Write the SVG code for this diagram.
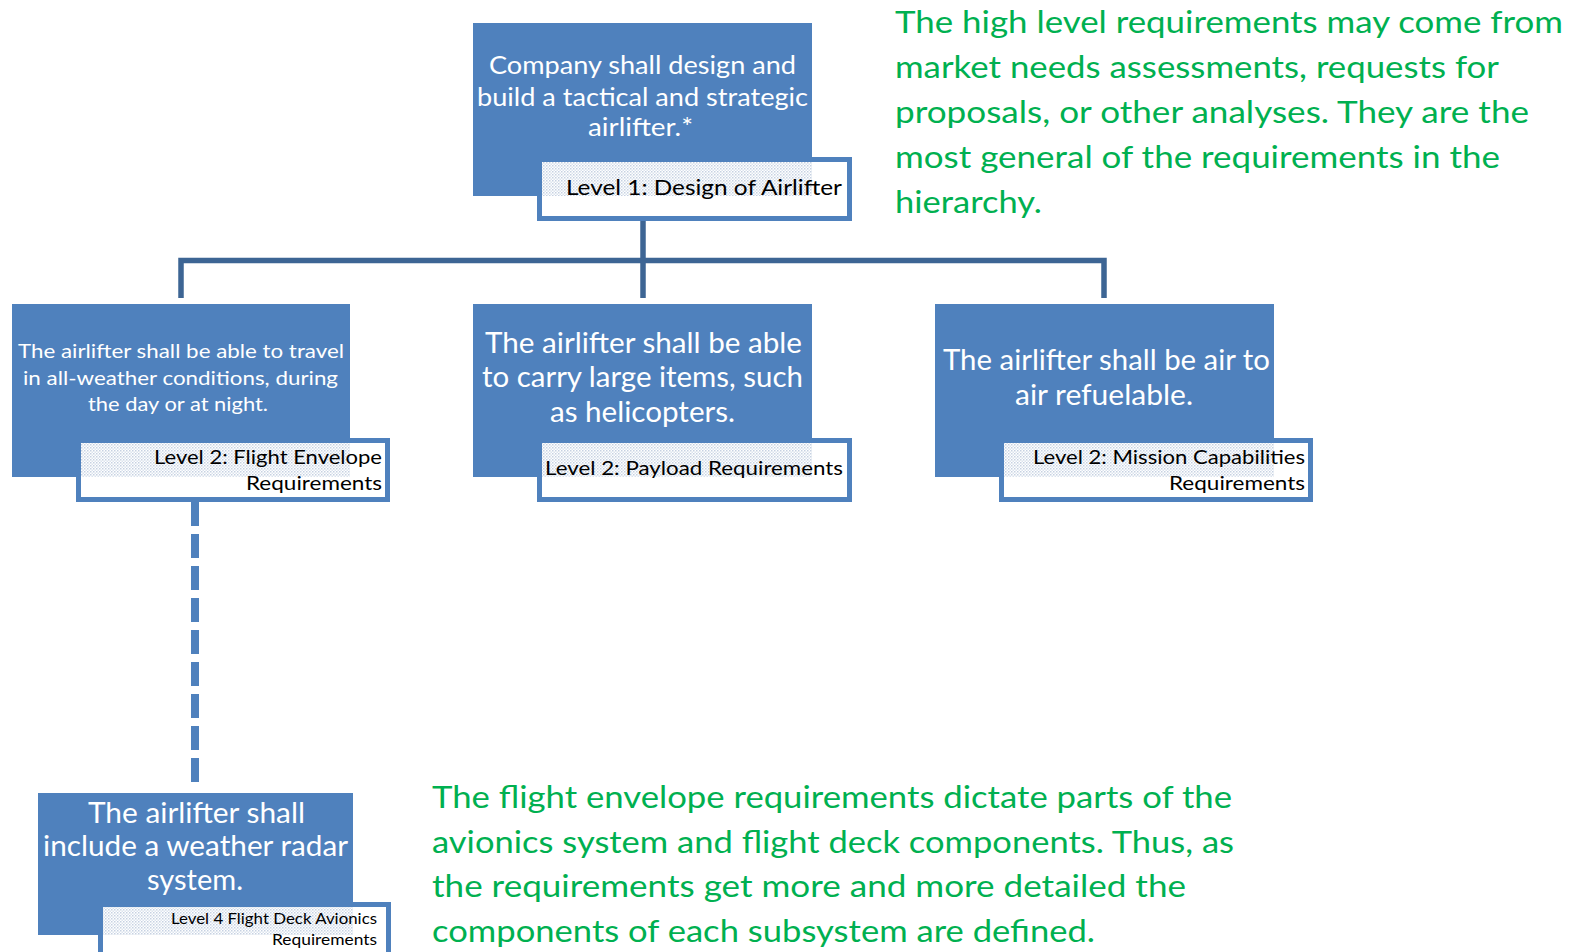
<svg xmlns="http://www.w3.org/2000/svg" width="1581" height="952" viewBox="0 0 1581 952">
<style>
.node{fill:#4f81bd}
.lbl{fill:#fff;stroke:#4f81bd;stroke-width:5}
.dot{fill:url(#dots)}
.wt{fill:#fff;font-family:Lato,"Liberation Sans",sans-serif}
.bk{fill:#000;font-family:Lato,"Liberation Sans",sans-serif}
.gr{fill:#00b050;font-family:Lato,"Liberation Sans",sans-serif;font-size:31px}
.conn{fill:none;stroke:#3d6594;stroke-width:5.5}
.dash{fill:none;stroke:#4f81bd;stroke-width:8;stroke-dasharray:24 8}
</style>
<defs>
<pattern id="dots" width="3" height="3" patternUnits="userSpaceOnUse">
<rect width="3" height="3" fill="#ffffff"/>
<rect width="1.5" height="1.5" fill="#c6d1e2"/>
<rect x="1.5" y="1.5" width="1.5" height="1.5" fill="#dbe3ee"/>
</pattern>
</defs>
<rect width="1581" height="952" fill="#fff"/>

<g id="connectors">
<path class="conn" d="M643,221 V260.5"/>
<path class="conn" d="M181,298 V260.5 H1104 V298"/>
<path class="conn" d="M643,260.5 V298"/>
<path class="dash" d="M195,502 V782"/>
</g>

<g id="node-level1">
<rect class="node" x="473" y="23" width="339" height="173"/>
<text class="wt" font-size="24.5" x="489" y="74" textLength="307" lengthAdjust="spacingAndGlyphs">Company shall design and</text>
<text class="wt" font-size="24.5" x="477" y="106" textLength="331" lengthAdjust="spacingAndGlyphs">build a tactical and strategic</text>
<text class="wt" font-size="24.5" x="588" y="136" textLength="105" lengthAdjust="spacingAndGlyphs">airlifter.*</text>
<rect class="lbl" x="539.5" y="159.5" width="310" height="59"/>
<rect class="dot" x="542" y="162" width="270" height="34"/>
<text class="bk" font-size="20.5" x="566" y="195" textLength="276" lengthAdjust="spacingAndGlyphs">Level 1: Design of Airlifter</text>
</g>

<g id="node-flight-envelope">
<rect class="node" x="12" y="304" width="338" height="173"/>
<text class="wt" font-size="20" x="18" y="358" textLength="326" lengthAdjust="spacingAndGlyphs">The airlifter shall be able to travel</text>
<text class="wt" font-size="20" x="23" y="385" textLength="315" lengthAdjust="spacingAndGlyphs">in all-weather conditions, during</text>
<text class="wt" font-size="20" x="88" y="411" textLength="180" lengthAdjust="spacingAndGlyphs">the day or at night.</text>
<rect class="lbl" x="78.5" y="440.5" width="309" height="59"/>
<rect class="dot" x="81" y="443" width="269" height="34"/>
<text class="bk" font-size="20" x="154" y="464" textLength="228" lengthAdjust="spacingAndGlyphs">Level 2: Flight Envelope</text>
<text class="bk" font-size="20" x="246" y="490" textLength="136" lengthAdjust="spacingAndGlyphs">Requirements</text>
</g>

<g id="node-payload">
<rect class="node" x="473" y="304" width="339" height="173"/>
<text class="wt" font-size="29" x="485" y="353" textLength="317" lengthAdjust="spacingAndGlyphs">The airlifter shall be able</text>
<text class="wt" font-size="29" x="482" y="387" textLength="321" lengthAdjust="spacingAndGlyphs">to carry large items, such</text>
<text class="wt" font-size="29" x="550" y="421.5" textLength="185" lengthAdjust="spacingAndGlyphs">as helicopters.</text>
<rect class="lbl" x="539.5" y="440.5" width="310" height="59"/>
<rect class="dot" x="542" y="443" width="270" height="34"/>
<text class="bk" font-size="19.5" x="545" y="475" textLength="298" lengthAdjust="spacingAndGlyphs">Level 2: Payload Requirements</text>
</g>

<g id="node-mission">
<rect class="node" x="935" y="304" width="339" height="173"/>
<text class="wt" font-size="29" x="943" y="370" textLength="327" lengthAdjust="spacingAndGlyphs">The airlifter shall be air to</text>
<text class="wt" font-size="29" x="1015" y="405" textLength="178" lengthAdjust="spacingAndGlyphs">air refuelable.</text>
<rect class="lbl" x="1001.5" y="440.5" width="309" height="59"/>
<rect class="dot" x="1004" y="443" width="270" height="34"/>
<text class="bk" font-size="20" x="1033" y="463.5" textLength="272" lengthAdjust="spacingAndGlyphs">Level 2: Mission Capabilities</text>
<text class="bk" font-size="20" x="1169" y="489.5" textLength="136" lengthAdjust="spacingAndGlyphs">Requirements</text>
</g>

<g id="node-avionics">
<rect class="node" x="38" y="793" width="315" height="142"/>
<text class="wt" font-size="28" x="88" y="822.5" textLength="217" lengthAdjust="spacingAndGlyphs">The airlifter shall</text>
<text class="wt" font-size="28" x="43" y="856" textLength="305" lengthAdjust="spacingAndGlyphs">include a weather radar</text>
<text class="wt" font-size="28" x="147" y="890" textLength="96" lengthAdjust="spacingAndGlyphs">system.</text>
<rect class="lbl" x="100.5" y="904.5" width="288" height="60"/>
<rect class="dot" x="103" y="907" width="250" height="28"/>
<text class="bk" font-size="16" x="171" y="924" textLength="206" lengthAdjust="spacingAndGlyphs">Level 4 Flight Deck Avionics</text>
<text class="bk" font-size="16" x="272" y="945" textLength="105" lengthAdjust="spacingAndGlyphs">Requirements</text>
</g>

<g id="note-top">
<text class="gr" x="895" y="33" textLength="668" lengthAdjust="spacingAndGlyphs">The high level requirements may come from</text>
<text class="gr" x="895" y="78" textLength="604" lengthAdjust="spacingAndGlyphs">market needs assessments, requests for</text>
<text class="gr" x="895" y="123" textLength="634" lengthAdjust="spacingAndGlyphs">proposals, or other analyses. They are the</text>
<text class="gr" x="895" y="168" textLength="605" lengthAdjust="spacingAndGlyphs">most general of the requirements in the</text>
<text class="gr" x="895" y="213" textLength="147" lengthAdjust="spacingAndGlyphs">hierarchy.</text>
</g>

<g id="note-bottom">
<text class="gr" x="432" y="808" textLength="800" lengthAdjust="spacingAndGlyphs">The flight envelope requirements dictate parts of the</text>
<text class="gr" x="432" y="852.5" textLength="802" lengthAdjust="spacingAndGlyphs">avionics system and flight deck components. Thus, as</text>
<text class="gr" x="432" y="897" textLength="754" lengthAdjust="spacingAndGlyphs">the requirements get more and more detailed the</text>
<text class="gr" x="432" y="941.5" textLength="663" lengthAdjust="spacingAndGlyphs">components of each subsystem are defined.</text>
</g>
</svg>
